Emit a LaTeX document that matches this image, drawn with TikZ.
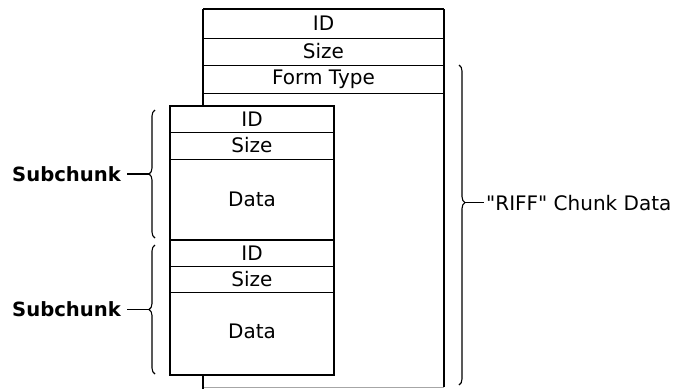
\documentclass[tikz,border=0pt]{standalone}
\usepackage{fontspec}
\setmainfont{DejaVu Sans}
\usetikzlibrary{decorations.pathreplacing}
\begin{document}
\begin{tikzpicture}[x=1pt,y=-1pt,
  frame/.style={draw=black, line width=1.3pt},
  rule/.style={draw=black, line width=1pt},
  faint/.style={draw=black!35, line width=0.8pt},
  fieldtext/.style={font=\fontsize{20}{22}\selectfont, inner sep=0pt},
  sidelabel/.style={font=\bfseries\fontsize{19.6}{22}\selectfont, inner sep=0pt},
  curly/.style={draw=black, line width=1.1pt, decorate,
    decoration={brace, amplitude=6pt, aspect=#1}},
  tick/.style={draw=black, line width=1.1pt}]
\useasboundingbox (0,0) rectangle (677,389);

% outer "RIFF" chunk: header fields and body outline
\draw[frame] (203,9) -- (444,9);
\draw[rule] (203,38) -- (444,38);
\draw[rule] (203,65) -- (444,65);
\draw[rule] (203,93) -- (444,93);
\draw[frame] (203,9) -- (203,106);
\draw[frame] (444,9) -- (444,387);
\draw[faint] (203,387) -- (444,387);
\draw[frame] (203,375) -- (203,389);

\node[fieldtext] (rid)   at (323.5,23.5) {ID};
\node[fieldtext] (rsize) at (323.5,51.5) {Size};
\node[fieldtext] (rform) at (323.5,79)   {Form Type};

% nested subchunks
\draw[frame] (170,106) rectangle (334,375);
\draw[rule] (170,132) -- (334,132);
\draw[rule] (170,159) -- (334,159);
\draw[frame] (170,240) -- (334,240);
\draw[rule] (170,266) -- (334,266);
\draw[rule] (170,292) -- (334,292);

\node[fieldtext] (aid)   at (252,119)   {ID};
\node[fieldtext] (asize) at (252,145.5) {Size};
\node[fieldtext] (adata) at (252,199)   {Data};
\node[fieldtext] (bid)   at (252,253)   {ID};
\node[fieldtext] (bsize) at (252,279)   {Size};
\node[fieldtext] (bdata) at (252,331)   {Data};

% braces and their labels
\coordinate (ab) at (155,238);
\coordinate (at) at (155,110);
\coordinate (atip) at (149,174);
\draw[curly=0.5] (ab) -- (at);
\node[sidelabel, anchor=east] (sub1) at (121,174) {Subchunk};
\draw[tick] (atip) -- ([xshift=6pt]sub1.east);

\coordinate (bb) at (155,374);
\coordinate (bt) at (155,245);
\coordinate (btip) at (149,309.5);
\draw[curly=0.5] (bb) -- (bt);
\node[sidelabel, anchor=east] (sub2) at (121,309.5) {Subchunk};
\draw[tick] (btip) -- ([xshift=6pt]sub2.east);

\coordinate (rt) at (459,65);
\coordinate (rb) at (459,385);
\coordinate (rtip) at (465,202.6);
\draw[curly=0.43] (rt) -- (rb);
\node[fieldtext, anchor=west] (riff) at (486,202.6) {\textquotedbl RIFF\textquotedbl{} Chunk Data};
\draw[tick] (rtip) -- ([xshift=-2pt]riff.west);
\end{tikzpicture}
\end{document}
